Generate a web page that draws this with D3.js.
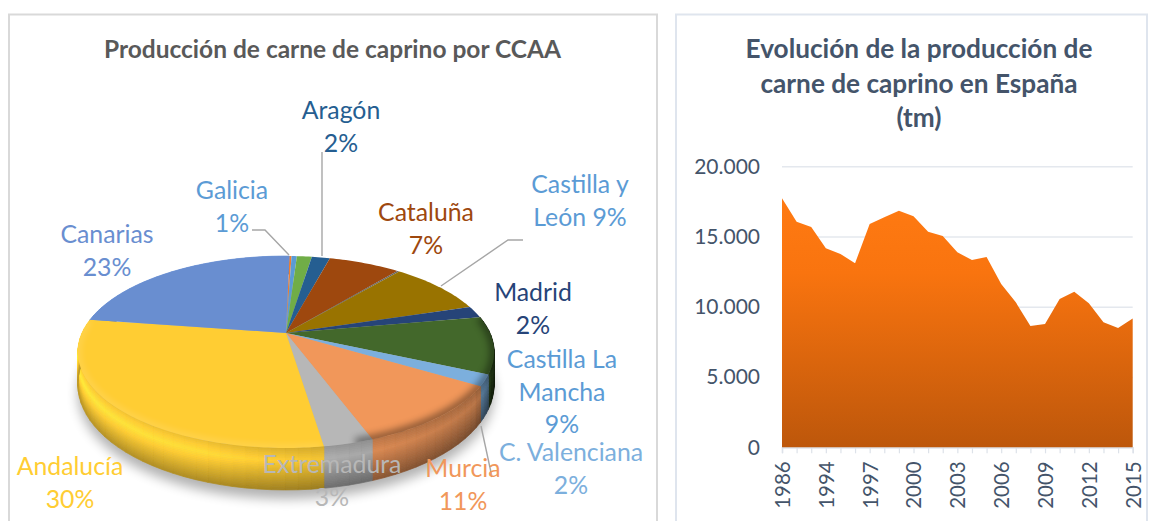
<!DOCTYPE html>
<html><head><meta charset="utf-8">
<script src="https://cdn.jsdelivr.net/npm/d3@7"></script>
<style>html,body{margin:0;padding:0;background:#fff}svg{display:block}text{font-family:Lato,"Open Sans",sans-serif}</style>
</head><body><svg id="c" width="1151" height="521"></svg>
<script>
// ---- pie data
const regions = ["", "Galicia", "", "Aragón", "Cataluña", "", "Castilla y León", "Madrid", "Castilla La Mancha", "C. Valenciana", "Murcia", "Extremadura", "Andalucía", "Canarias"];
const shares = [0.2, 0.5, 1.4, 1.7, 6.7, 0.2, 9.1, 2.0, 9.6, 1.9, 10.7, 3.2, 29.7, 22.9];
const sliceColors = ["#ED7D31", "#5B9BD5", "#70AD47", "#255E91", "#9E480E", "#636363", "#997300", "#264478", "#43682B", "#7CAFDD", "#F1975A", "#B7B7B7", "#FFCD33", "#698ED0"];
// ---- pie label text
const labelLines = [["Canarias","23%"],["Galicia","1%"],["Aragón","2%"],["Cataluña","7%"],["Castilla y","León 9%"],["Madrid","2%"],["Castilla La","Mancha","9%"],["C. Valenciana","2%"],["Murcia","11%"],["Extremadura","3%"],["Andalucía","30%"]];
const labelColors = ["#698ED0","#5B9BD5","#255E91","#9E480E","#5B9BD5","#264478","#5B9BD5","#7CAFDD","#F1975A","#B7B7B7","#FFCD33"];
const labelAnchors = [[107,235],[232,191],[341,111],[426,213],[580,185],[533,293],[562,360],[571,453],[463,469],[332,465],[70,467]];
const leaders = [[[252,230],[265,230],[289,255]],[[322,152],[322,256]],[[523,240],[508,240],[441,286]],[[481,426],[492,477]]];
// ---- area data
const years = ["1986","1990","1992","1994","1995","1996","1997","1998","1999","2000","2001","2002","2003","2004","2005","2006","2007","2008","2009","2010","2011","2012","2013","2014","2015"];
const production = [17720,16060,15680,14160,13760,13100,15900,16370,16840,16440,15350,15040,13880,13330,13550,11620,10320,8640,8780,10560,11080,10250,8900,8490,9160];
const yearLabels = ["1986","1994","1997","2000","2003","2006","2009","2012","2015"];
const yTicks = [0,5000,10000,15000,20000];

const svg = d3.select("#c");
const defs = svg.append("defs");
const fmt = v => d3.format(",")(v).replace(/,/g,".");

// frames
svg.append("rect").attr("x",9).attr("y",14.5).attr("width",648).attr("height",520).attr("fill","#fff").attr("stroke","#D9D9D9").attr("stroke-width",2);
svg.append("rect").attr("x",676).attr("y",14.5).attr("width",471).attr("height",520).attr("fill","#fff").attr("stroke","#DFE5EE").attr("stroke-width",2);

svg.append("text").attr("x",332.5).attr("y",58).attr("text-anchor","middle").attr("font-size",24.5).attr("font-weight",700).attr("fill","#595959").text("Producción de carne de caprino por CCAA");
["Evolución de la producción de","carne de caprino en España","(tm)"].forEach((t,i)=>{
  svg.append("text").attr("x",919).attr("y",58+i*34.5).attr("text-anchor","middle").attr("font-size",26.2).attr("font-weight",700).attr("fill","#44546A").text(t);
});

// ---- 3D pie: projective map of a disc onto the tilted ellipse
const cx=286, cy=333, Rx=204, Ry=92.2, p=0.198;
const pt = a => { const u=Math.sin(a), v=Math.cos(a), s=1+p*v; return [cx+Rx*u/s, cy-Ry*v/s]; };
const wallH = a => 30-12*Math.cos(a);
const pieArcs = d3.pie().sort(null).startAngle(0.02).endAngle(0.02+2*Math.PI)(shares);
const rad = d => d*Math.PI/180;

const blur = defs.append("filter").attr("id","soft").attr("x","-20%").attr("y","-40%").attr("width","140%").attr("height","180%");
blur.append("feGaussianBlur").attr("stdDeviation",6);
const blur2 = defs.append("filter").attr("id","soft2").attr("x","-20%").attr("y","-40%").attr("width","140%").attr("height","180%");
blur2.append("feGaussianBlur").attr("stdDeviation",3.5);
svg.append("path").attr("filter","url(#soft)").attr("fill","#000").attr("opacity",.3)
  .attr("d",d3.line()(d3.range(0,361,5).map(d=>{const a=rad(d),q=pt(a);return [q[0],q[1]+wallH(a)+9];})));

const angleShade = d3.scaleLinear().domain([90,108,125,160,200,280]).range([.2,.38,.68,.8,.95,1.05]).clamp(true);
const bandShade = d3.scaleLinear().domain([0,.3,1]).range([.97,1.14,.72]);
const wall = svg.append("g");
const darken = (c,k)=>{const r=d3.rgb(c);return d3.rgb(Math.min(255,r.r*k),Math.min(255,r.g*k),Math.min(255,r.b*k)).formatHex();};
pieArcs.forEach((s,i)=>{
  const deg1=s.startAngle*180/Math.PI, deg2=s.endAngle*180/Math.PI;
  if(deg2<80||deg1>285) return;
  const n=Math.max(2,Math.ceil((deg2-deg1)/3));
  for(let k=0;k<n;k++){
    const a1=s.startAngle+(s.endAngle-s.startAngle)*k/n, a2=s.startAngle+(s.endAngle-s.startAngle)*(k+1)/n;
    const bands=24;
    for(let b=0;b<bands;b++){
      const t1=b/bands,t2=(b+1)/bands;
      const P=(a,t)=>{const q=pt(a);return [q[0],q[1]+wallH(a)*t];};
      const col=darken(sliceColors[i],angleShade((a1+a2)/2*180/Math.PI)*bandShade((t1+t2)/2));
      wall.append("path").attr("d",d3.line()([P(a1,t1),P(a2,t1),P(a2,t2),P(a1,t2)])+"Z").attr("fill",col).attr("stroke",col).attr("stroke-width",.7);
    }
  }
});
const topFace = svg.append("g");
topFace.selectAll("path").data(pieArcs).join("path")
  .attr("fill",(d,i)=>sliceColors[i])
  .attr("d",d=>{
    const n=Math.max(2,Math.ceil((d.endAngle-d.startAngle)/.02));
    const pts=[[cx,cy]].concat(d3.range(n+1).map(k=>pt(d.startAngle+(d.endAngle-d.startAngle)*k/n)));
    return d3.line()(pts)+"Z";
  });
// soft bevel shading along the rim of the top face
defs.append("clipPath").attr("id","faceClip").append("path").attr("d",d3.line()(d3.range(0,361,2).map(d=>pt(rad(d))))+"Z");
const bevel = svg.append("g").attr("clip-path","url(#faceClip)");
bevel.append("path").attr("filter","url(#soft2)").attr("fill","none").attr("stroke","#000").attr("stroke-width",9).attr("opacity",.4)
  .attr("d",d3.line()(d3.range(80,166,2).map(d=>pt(rad(d)))));
bevel.append("path").attr("filter","url(#soft2)").attr("fill","none").attr("stroke","#fff").attr("stroke-width",5).attr("opacity",.18)
  .attr("d",d3.line()(d3.range(172,280,2).map(d=>pt(rad(d)))));

// leader lines
svg.append("g").selectAll("path").data(leaders).join("path").attr("d",d=>d3.line()(d)).attr("fill","none").attr("stroke","#A6A6A6").attr("stroke-width",1.4);
// pie labels
labelLines.forEach((lines,i)=>{
  lines.forEach((t,j)=>{
    svg.append("text").attr("x",labelAnchors[i][0]).attr("y",labelAnchors[i][1]+8+j*32.5).attr("text-anchor","middle").attr("font-size",24.8).attr("fill",labelColors[i]).text(t);
  });
});

// ---- area chart
const x=d3.scalePoint().domain(years).range([782,1132.7]);
const y=d3.scaleLinear().domain([0,20000]).range([447.3,166.3]);
const grad=defs.append("linearGradient").attr("id","ag").attr("gradientUnits","userSpaceOnUse").attr("x1",0).attr("x2",0).attr("y1",y(17720)).attr("y2",y(0));
grad.append("stop").attr("offset",0).attr("stop-color","#FF7A12");
grad.append("stop").attr("offset",.3).attr("stop-color","#F9740F");
grad.append("stop").attr("offset",1).attr("stop-color","#BD570B");

const gy=svg.append("g").attr("transform","translate(782,0)")
  .call(d3.axisLeft(y).tickValues(yTicks).tickFormat(fmt).tickSize(-350.7).tickPadding(22));
gy.select(".domain").remove();
gy.selectAll("line").attr("stroke","#E4E8EE").attr("stroke-width",1.5);
gy.selectAll("text").attr("font-size",21).attr("fill","#44546A").attr("font-family","Lato");

const gx=svg.append("g").attr("transform","translate(0,447.3)")
  .call(d3.axisBottom(x).tickValues(years).tickSize(6).tickFormat(d=>yearLabels.includes(d)?d:""));
gx.select(".domain").attr("stroke","#DDE2E9").attr("stroke-width",1.5);
gx.selectAll("line").attr("stroke","#DDE2E9").attr("stroke-width",1.2);
gx.selectAll("text").attr("font-size",20.5).attr("fill","#44546A").attr("font-family","Lato")
  .attr("transform","rotate(-90)").attr("text-anchor","end").attr("x",-14).attr("y",0).attr("dy",".36em");

svg.append("path").datum(production).attr("fill","url(#ag)")
  .attr("d",d3.area().x((d,i)=>x(years[i])).y0(y(0)).y1(d=>y(d)));
</script></body></html>
